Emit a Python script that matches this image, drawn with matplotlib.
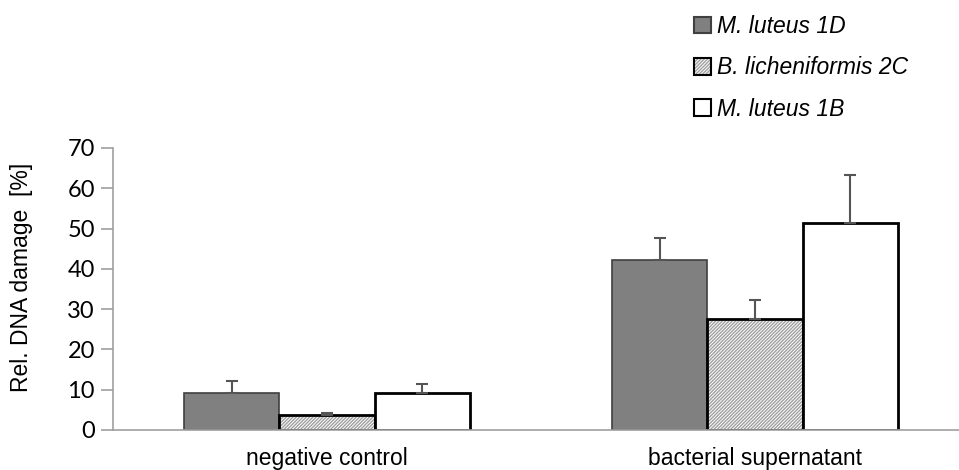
import numpy as np
import matplotlib
matplotlib.use('Agg')
import matplotlib.pyplot as plt
from matplotlib.patches import Patch
from matplotlib.legend_handler import HandlerTuple

# data
categories = ['negative control', 'bacterial supernatant']
series = ['M. luteus 1D', 'B. licheniformis 2C', 'M. luteus 1B']
means = [[9.1, 42.2],
         [3.6, 27.5],
         [9.3, 51.3]]
errors = [[3.1, 5.4],
          [0.7, 4.8],
          [2.2, 11.9]]

faces = ['#808080', 'white', 'white']
edges = ['#404040', 'black', 'black']
hatches = [None, '//////////', None]
lws = [1.2, 2.0, 2.0]
hatch_col = '#a0a0a0'

plt.rcParams['hatch.linewidth'] = 1.0

fig = plt.figure(figsize=(9.59, 4.70), dpi=100)
ax = fig.add_axes([113 / 959, 1 - 430 / 470, 856 / 959, 282 / 470])

x = np.arange(len(categories))
width = 0.222
for i in range(len(series)):
    pos = x + (i - 1) * width
    if hatches[i]:
        # hatch drawn in light grey, outline drawn separately in black
        ax.bar(pos, means[i], width, color=faces[i], edgecolor=hatch_col,
               linewidth=0, hatch=hatches[i], zorder=2)
        ax.bar(pos, means[i], width, fill=False, edgecolor=edges[i],
               linewidth=lws[i], zorder=2)
    else:
        ax.bar(pos, means[i], width, color=faces[i], edgecolor=edges[i],
               linewidth=lws[i], zorder=2)
    ax.errorbar(pos, means[i], yerr=[np.zeros(2), errors[i]], fmt='none',
                ecolor='#555555', elinewidth=1.5, capsize=4.5, capthick=1.5, zorder=3)

ax.set_xlim(-0.5, 1.5)
ax.set_ylim(0, 70)
ax.set_yticks(range(0, 71, 10))
ax.set_xticks(x)
ax.set_xticklabels(categories, fontsize=16.5, family='Liberation Sans')
ax.tick_params(axis='x', length=0, pad=12)
ax.tick_params(axis='y', length=9, color='#a0a0a0', width=1.2, labelsize=17, pad=4)
for lab in ax.get_yticklabels():
    lab.set_family('Lato')

for s in ['top', 'right']:
    ax.spines[s].set_visible(False)
ax.spines['left'].set_color('#a0a0a0')
ax.spines['bottom'].set_color('#a0a0a0')
ax.spines['left'].set_linewidth(1.2)
ax.spines['bottom'].set_linewidth(1.2)

ax.set_ylabel('Rel. DNA damage  [%]', fontsize=16.5, family='Liberation Sans')
ax.yaxis.set_label_coords(-0.093, 0.54)

handles = []
for i in range(len(series)):
    if hatches[i]:
        handles.append((Patch(facecolor=faces[i], edgecolor=hatch_col, hatch=hatches[i], linewidth=0),
                        Patch(fill=False, edgecolor=edges[i], linewidth=1.5)))
    else:
        handles.append(Patch(facecolor=faces[i], edgecolor=edges[i], linewidth=1.5))
fig.legend(handles, series, loc='upper left', bbox_to_anchor=(673 / 959, 1.012),
           frameon=False, handlelength=0.75, handleheight=0.75, handletextpad=0.25,
           labelspacing=0.8, handler_map={tuple: HandlerTuple(ndivide=1)},
           prop={'family': 'Liberation Sans', 'style': 'italic', 'size': 16.5})

fig.savefig('out.png', dpi=100)
